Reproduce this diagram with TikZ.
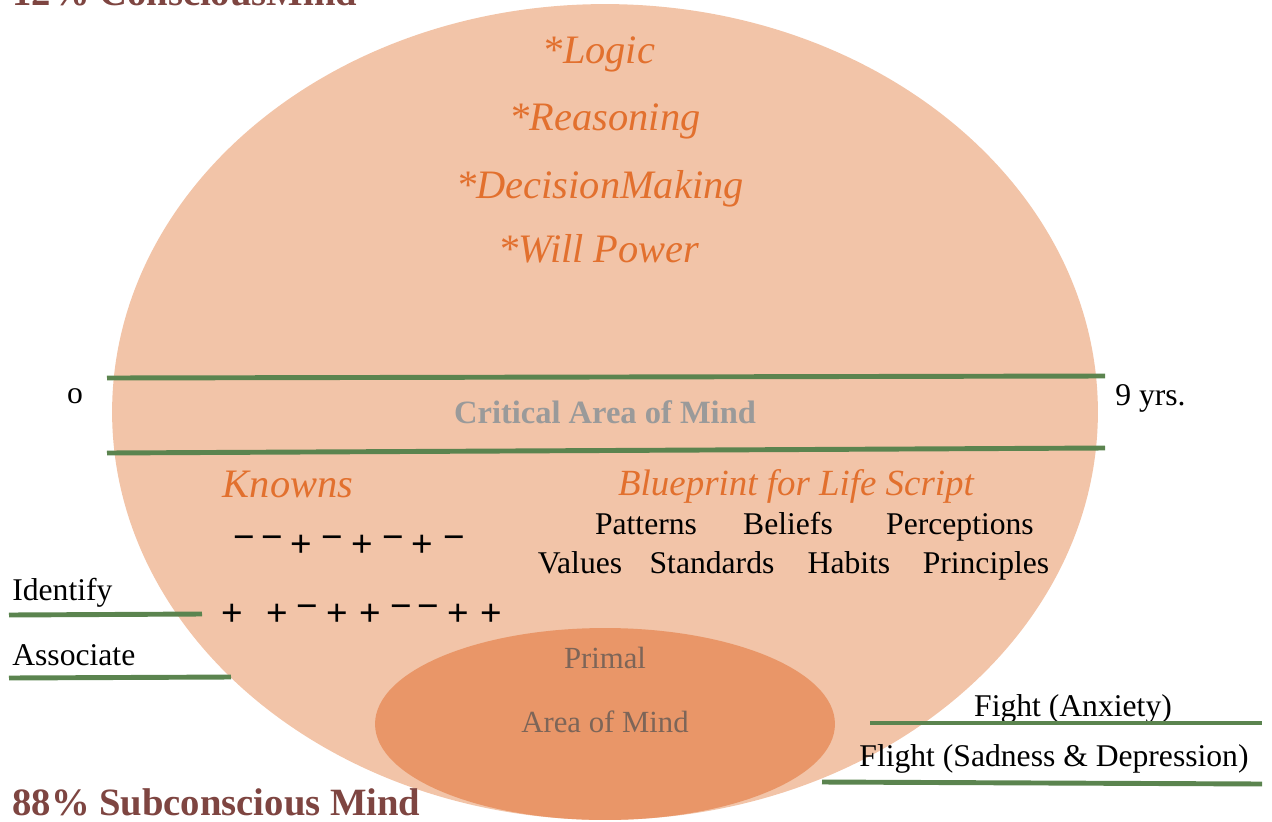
\documentclass[tikz,border=0pt]{standalone}
\usepackage{fontspec}
\setmainfont{Liberation Serif}
\newfontfamily\signfont{Liberation Sans}
\usetikzlibrary{shapes.geometric}

\definecolor{peach}{HTML}{F2C4A8}
\definecolor{primalfill}{HTML}{E99668}
\definecolor{orangetxt}{HTML}{E2702E}
\definecolor{maroon}{HTML}{7E4541}
\definecolor{grn}{HTML}{5B844F}
\definecolor{primaltxt}{HTML}{7D6558}
\definecolor{critgrey}{HTML}{9A9A9A}

\begin{document}
\begin{tikzpicture}
  [x=0.02cm, y=-0.02cm,
    every node/.style={inner sep=0pt, anchor=base},
    trait/.style={text=orangetxt, font=\fontsize{23}{26}\selectfont\itshape},
    plain/.style={font=\fontsize{18}{20}\selectfont},
    heading/.style={text=maroon, font=\fontsize{22}{24}\selectfont\bfseries, anchor=base west},
    sign/.style={font=\signfont\fontsize{21}{23}\selectfont},
    rule/.style={draw=grn, line width=2.8pt},
  ]
  \useasboundingbox (0,0) rectangle (1272,822);

  % areas of mind
  \node[ellipse, fill=peach, minimum width=19.72cm, minimum height=16.32cm, anchor=center] (mind) at (605,412) {};
  \node[ellipse, fill=primalfill, minimum width=9.2cm, minimum height=3.84cm, anchor=center] (primal) at (605,724) {};

  \node[heading] (conscious) at (12,5) {12\% ConsciousMind};
  \node[heading] (subconscious) at (12,815) {88\% Subconscious Mind};

  \node[trait] (logic) at (599,63) {*Logic};
  \node[trait] (reason) at (605,130) {*Reasoning};
  \node[trait] (decide) at (600,198) {*DecisionMaking};
  \node[trait] (will) at (599,262) {*Will Power};

  % critical area
  \coordinate (crit1w) at (107,378);
  \coordinate (crit1e) at (1105,376);
  \coordinate (crit2w) at (107,453);
  \coordinate (crit2e) at (1105,448);
  \draw[rule] (crit1w) -- (crit1e);
  \draw[rule] (crit2w) -- (crit2e);
  \node[text=critgrey, font=\fontsize{18.5}{20}\selectfont\bfseries] (critical) at (605,423) {Critical Area of Mind};
  \node[plain] (zero) at (75,403) {o};
  \node[plain, anchor=base west] (nine) at (1115,405) {9 yrs.};

  \node[trait] (knowns) at (288,497) {Knowns};
  \node[trait, font=\fontsize{21}{24}\selectfont\itshape] (blueprint) at (796,495) {Blueprint for Life Script};

  \node[plain] (patterns) at (646,534) {Patterns};
  \node[plain] (beliefs) at (788,534) {Beliefs};
  \node[plain] (perceptions) at (960,534) {Perceptions};
  \node[plain] (values) at (580,573) {Values};
  \node[plain] (standards) at (712,573) {Standards};
  \node[plain] (habits) at (849,573) {Habits};
  \node[plain] (principles) at (986,573) {Principles};

  % signs
  \foreach \x/\y/\s [count=\i] in {244/549/−, 272/549/−, 301/556/+, 332/549/−,
      362/556/+, 393/549/−, 422/556/+, 454/549/−}
    \node[sign] (sa\i) at (\x,\y) {\s};
  \foreach \x/\y/\s [count=\i] in {232/625/+, 277/625/+, 307/618/−, 337/625/+,
      370/625/+, 401/618/−, 428/618/−, 458/625/+, 491/625/+}
    \node[sign] (sb\i) at (\x,\y) {\s};

  \node[plain, anchor=base west] (identify) at (12,600) {Identify};
  \node[plain, anchor=base west] (associate) at (12,665) {Associate};
  \coordinate (idw) at (9,615);
  \coordinate (ide) at (202,614);
  \coordinate (asw) at (9,678);
  \coordinate (ase) at (231,677);
  \draw[rule] (idw) -- (ide);
  \draw[rule] (asw) -- (ase);

  \node[text=primaltxt, font=\fontsize{17.5}{20}\selectfont] (primal1) at (605,668) {Primal};
  \node[text=primaltxt, font=\fontsize{17.5}{20}\selectfont] (primal2) at (605,732) {Area of Mind};

  \node[plain] (fight) at (1073,716) {Fight (Anxiety)};
  \node[plain] (flight) at (1054,766) {Flight (Sadness \& Depression)};
  \coordinate (fiw) at (870,723);
  \coordinate (fie) at (1262,723);
  \coordinate (flw) at (822,782);
  \coordinate (fle) at (1262,784);
  \draw[rule] (fiw) -- (fie);
  \draw[rule] (flw) -- (fle);
\end{tikzpicture}
\end{document}
